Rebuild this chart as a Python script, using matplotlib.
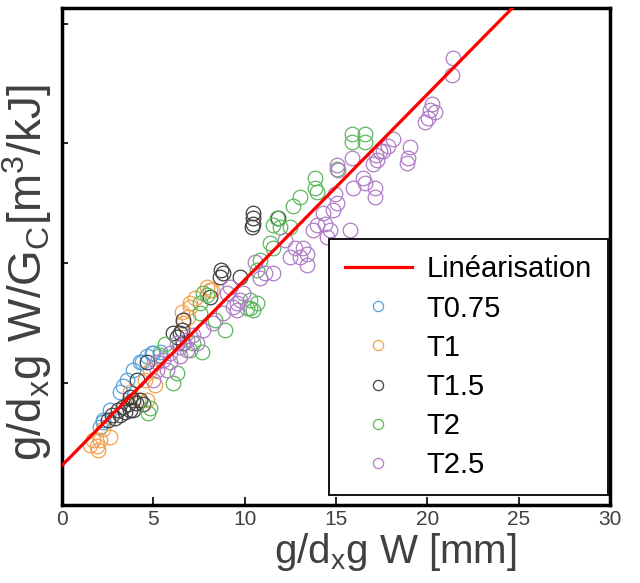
import matplotlib
matplotlib.use("Agg")
import matplotlib.pyplot as plt

plt.rcParams['font.family'] = ['Liberation Sans', 'DejaVu Sans']
plt.rcParams['mathtext.fontset'] = 'custom'
plt.rcParams['mathtext.rm'] = 'Liberation Sans'

# data (y axis has no printed values, arbitrary units)
t075_x = [2.24, 2.08, 2.24, 2.63, 3.17, 3.34, 3.56, 3.89, 4.27, 4.38, 4.65, 4.93, 5.36, 4.98]
t075_y = [0.69, 0.63, 0.67, 0.775, 0.92, 0.97, 1.025, 1.11, 1.17, 1.17, 1.22, 1.25, 1.26, 1.25]

t1_x = [1.70, 1.92, 1.53, 2.63, 2.24, 1.97, 2.08, 3.72, 4.65, 4.16, 4.54, 4.82, 5.09,
        7.94, 8.10, 7.28, 7.01, 6.90, 6.62, 6.57, 7.01, 8.21]
t1_y = [0.525, 0.47, 0.48, 0.55, 0.61, 0.44, 0.525, 0.92, 0.86, 0.86, 1.025, 1.11, 0.98,
        1.80, 1.775, 1.71, 1.63, 1.55, 1.50, 1.59, 1.67, 1.775]

t15_x = [2.52, 2.74, 2.90, 3.07, 3.17, 3.34, 3.45, 3.61, 3.72, 3.89, 3.89, 4.05, 4.27, 4.43,
         3.72, 4.10, 4.65, 6.08, 6.29, 6.46, 6.62, 6.57, 6.62, 8.10, 8.65, 8.81, 8.70, 9.74,
         10.45, 10.45, 10.45, 10.40, 11.82]
t15_y = [0.69, 0.73, 0.71, 0.775, 0.73, 0.80, 0.76, 0.82, 0.775, 0.86, 0.775, 0.83, 0.86, 0.82,
         0.88, 1.025, 1.17, 1.42, 1.38, 1.42, 1.33, 1.44, 1.525, 1.72, 1.88, 1.92, 1.94, 1.88,
         2.42, 2.375, 2.33, 2.30, 2.38]

t2_x = [15.87, 15.87, 16.58, 16.58, 15.05, 13.85, 13.85, 13.96, 13.03, 12.64, 11.77, 11.55,
        11.93, 12.48, 11.38, 11.55, 10.84, 10.67, 10.29, 10.29, 10.45, 10.67, 7.72, 7.55,
        7.55, 7.94, 7.66, 4.71, 4.82, 6.08, 6.29, 7.01, 7.17, 10.13, 8.37, 8.92, 5.36, 5.64]
t2_y = [3.08, 3.01, 3.08, 3.01, 2.79, 2.71, 2.63, 2.59, 2.55, 2.48, 2.38, 2.32,
        2.30, 2.30, 2.17, 2.125, 2.025, 1.94, 1.69, 1.625, 1.61, 1.67, 1.75, 1.67,
        1.58, 1.73, 1.26, 0.75, 0.79, 1.0, 1.08, 1.275, 1.33, 1.625, 1.525, 1.44, 1.23, 1.32]

t25_x = [21.40, 21.35, 20.25, 20.14, 20.03, 19.87, 20.42, 18.12, 17.84, 17.41, 17.19, 19.05,
         18.94, 18.88, 17.57, 17.24, 17.02, 15.87, 15.05, 15.11, 16.48, 16.58, 15.93, 17.13,
         17.13, 14.94, 15.05, 14.83, 14.29, 14.40, 13.96, 13.74, 14.67, 14.50, 15.76, 13.19,
         13.41, 13.03, 13.41, 12.75, 12.48, 11.11, 10.84, 11.55, 9.58, 9.58, 9.74, 9.91,
         9.20, 9.03, 9.36, 8.81, 8.26, 7.72, 7.17, 6.84, 6.46, 5.91, 5.53, 5.20, 5.75, 5.20,
         6.46, 6.84, 7.39, 6.29, 4.98, 5.91, 12.21, 10.56]
t25_y = [3.71, 3.57, 3.33, 3.28, 3.21, 3.18, 3.26, 3.04, 2.98, 2.94, 2.90, 2.97,
         2.88, 2.84, 2.94, 2.86, 2.83, 2.875, 2.82, 2.78, 2.71, 2.67, 2.625, 2.63,
         2.55, 2.58, 2.50, 2.44, 2.42, 2.33, 2.32, 2.275, 2.275, 2.22, 2.275, 2.13,
         2.08, 2.05, 1.98, 2.13, 2.05, 1.92, 1.875, 1.92, 1.67, 1.61, 1.69, 1.75,
         1.80, 1.75, 1.63, 1.58, 1.50, 1.44, 1.40, 1.36, 1.30, 1.25, 1.19, 1.17, 1.11, 1.11,
         1.22, 1.275, 1.33, 1.33, 1.025, 1.17, 2.19, 2.01]

lin_x = [0, 27]
lin_y = [0.31, 4.495]

series = [
    (t075_x, t075_y, '#5aa2dc', 'T0.75'),
    (t1_x, t1_y, '#f5a04a', 'T1'),
    (t15_x, t15_y, '#404040', 'T1.5'),
    (t2_x, t2_y, '#5cb85c', 'T2'),
    (t25_x, t25_y, '#b07cc6', 'T2.5'),
]

fig = plt.figure(figsize=(6.4, 5.83), dpi=100)
ax = fig.add_axes([0.097, 0.134, 0.856, 0.852])

line, = ax.plot(lin_x, lin_y, color='#ff0000', lw=2.3, zorder=5, label='Linéarisation')
for xs, ys, c, lab in series:
    ax.plot(xs, ys, 'o', ms=10.5, mfc='none', mec=c, mew=0.9, label=lab)

ax.set_xlim(0, 30)
ax.set_ylim(-0.02, 4.13)
ax.set_xticks([0, 5, 10, 15, 20, 25, 30])
ax.set_yticks([1, 2, 3, 4])
ax.set_yticklabels([])
ax.tick_params(axis='x', direction='in', length=6, width=1.2, labelsize=15,
               labelcolor='#404040', pad=4)
ax.tick_params(axis='y', direction='in', length=4, width=1.2)
for s in ax.spines.values():
    s.set_linewidth(2.5)

ax.set_xlabel(r'g/d$_\mathregular{x}$g W [mm]', fontsize=29, color='#404040',
              x=0.608, labelpad=1)
ax.set_ylabel(r'g/d$_\mathregular{x}$g W/G$_\mathregular{C}$[m$^\mathregular{3}$/kJ]',
              fontsize=33, color='#404040', y=0.468, labelpad=2)

leg = ax.legend(loc='lower right', bbox_to_anchor=(0.996, 0.02), borderaxespad=0,
                fontsize=21, fancybox=False, framealpha=1, edgecolor='black',
                handlelength=2.3, handletextpad=0.5, markerscale=0.7,
                labelspacing=0.38, borderpad=0.55)
leg.get_frame().set_linewidth(1.3)

fig.savefig('out.png', dpi=100)
